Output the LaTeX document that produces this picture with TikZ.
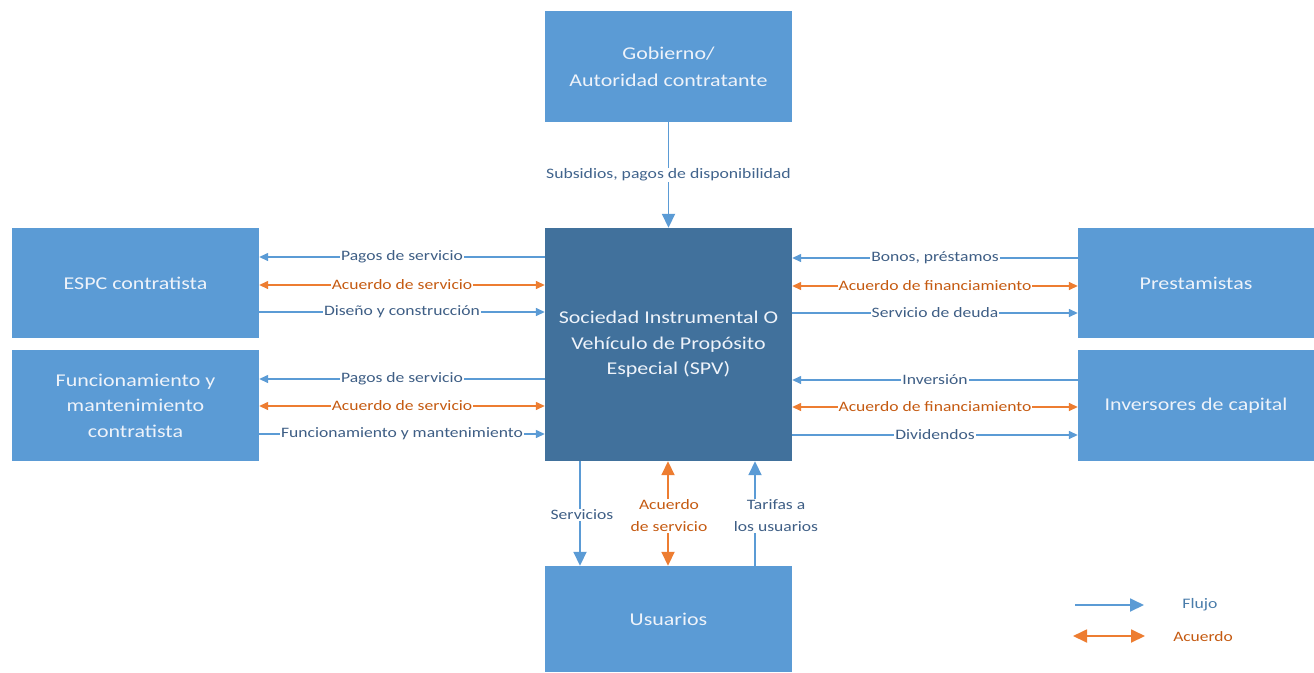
\documentclass[tikz,border=0pt]{standalone}
\usepackage{fontspec}
\setmainfont{Carlito}[FakeStretch=1.22]
\usetikzlibrary{arrows.meta}
\definecolor{boxblue}{HTML}{5B9BD5}
\definecolor{spvblue}{HTML}{41719C}
\definecolor{flowc}{HTML}{5B9BD5}
\definecolor{agrc}{HTML}{ED7D31}
\definecolor{lblc}{HTML}{3E5E85}
\definecolor{lblo}{HTML}{C55A11}
\definecolor{boxtxt}{HTML}{EEF3FA}
\tikzset{
  box/.style={rectangle, fill=boxblue, draw=none, text=boxtxt, font=\fontsize{18}{25.5}\selectfont, align=center, inner sep=0pt},
  flow/.style={draw=flowc, line width=1.4pt, -{Triangle[length=9pt,width=8pt]}},
  agr/.style={draw=agrc, line width=1.4pt, {Triangle[length=9pt,width=8pt]}-{Triangle[length=9pt,width=8pt]}},
  bigflow/.style={draw=flowc, line width=1.8pt, -{Triangle[length=14pt,width=13pt]}},
  bigagr/.style={draw=agrc, line width=1.8pt, {Triangle[length=14pt,width=13pt]}-{Triangle[length=14pt,width=13pt]}},
  lbl/.style={fill=white, text=lblc, inner sep=1pt, font=\fontsize{14.4}{22}\selectfont, align=center},
  lblor/.style={fill=white, text=lblo, inner sep=1pt, font=\fontsize{14.4}{22}\selectfont, align=center},
}
\begin{document}
\begin{tikzpicture}[x=1pt,y=-1pt]
\useasboundingbox (0,0) rectangle (1314,672);
\fill[white] (0,0) rectangle (1314,672);
% boxes
\node[box, minimum width=247pt, minimum height=111pt, font=\fontsize{18}{27}\selectfont] (gob) at (668.5,66.5) {Gobierno/\\Autoridad contratante};
\node[box, fill=spvblue, minimum width=247pt, minimum height=233pt] (spv) at (668.5,344.5) {Sociedad Instrumental O\\Vehículo de Propósito\\Especial (SPV)};
\node[box, minimum width=247pt, minimum height=110pt] (espc) at (135.5,283) {ESPC contratista};
\node[box, minimum width=247pt, minimum height=111pt] (fym) at (135.5,405.5) {Funcionamiento y\\mantenimiento\\contratista};
\node[box, minimum width=236pt, minimum height=110pt] (prest) at (1196,283) {Prestamistas};
\node[box, minimum width=236pt, minimum height=111pt] (inv) at (1196,405.5) {Inversores de capital};
\node[box, minimum width=247pt, minimum height=106pt] (usu) at (668.5,619) {Usuarios};
% top
\draw[bigflow] (gob.south) -- (spv.north) node[pos=0.5, lbl, text=lblc!90!flowc, font=\fontsize{14.5}{16}\selectfont] {Subsidios, pagos de disponibilidad};
% left top
\draw[flow] (spv.west |- 0,257) -- (espc.east |- 0,257) node[midway,lbl] {Pagos de servicio};
\draw[agr] (espc.east |- 0,285) -- (spv.west |- 0,285) node[midway,lblor] {Acuerdo de servicio};
\draw[flow] (espc.east |- 0,312) -- (spv.west |- 0,312) node[midway,lbl] {Diseño y construcción};
% left bottom
\draw[flow] (spv.west |- 0,379) -- (fym.east |- 0,379) node[midway,lbl] {Pagos de servicio};
\draw[agr] (fym.east |- 0,406) -- (spv.west |- 0,406) node[midway,lblor] {Acuerdo de servicio};
\draw[flow] (fym.east |- 0,434) -- (spv.west |- 0,434) node[midway,lbl] {Funcionamiento y mantenimiento};
% right top
\draw[flow] (prest.west |- 0,258) -- (spv.east |- 0,258) node[midway,lbl] {Bonos, préstamos};
\draw[agr] (spv.east |- 0,286) -- (prest.west |- 0,286) node[midway,lblor] {Acuerdo de financiamiento};
\draw[flow] (spv.east |- 0,313) -- (prest.west |- 0,313) node[midway,lbl] {Servicio de deuda};
% right bottom
\draw[flow] (inv.west |- 0,380) -- (spv.east |- 0,380) node[midway,lbl] {Inversión};
\draw[agr] (spv.east |- 0,407) -- (inv.west |- 0,407) node[midway,lblor] {Acuerdo de financiamiento};
\draw[flow] (spv.east |- 0,435) -- (inv.west |- 0,435) node[midway,lbl] {Dividendos};
% bottom
\draw[bigflow] (spv.south -| 580,0) -- (usu.north -| 580,0);
\node[lbl] (lserv) at (582,515) {Servicios};
\draw[bigagr] (usu.north -| 668,0) -- (spv.south -| 668,0);
\node[lblor] (lacu) at (669,516) {Acuerdo\\de servicio};
\draw[bigflow] (usu.north -| 755,0) -- (spv.south -| 755,0);
\node[lbl] (ltar) at (776,516) {Tarifas a\\los usuarios};
% legend
\coordinate (lf1) at (1075,605);
\coordinate (lf2) at (1144,605);
\coordinate (la1) at (1073,636);
\coordinate (la2) at (1145,636);
\draw[bigflow] (lf1) -- (lf2);
\draw[bigagr] (la1) -- (la2);
\node[text=flowc!80!black, font=\fontsize{14.5}{16}\selectfont] (lflujo) at (1200,605) {Flujo};
\node[text=lblo, font=\fontsize{14.3}{16}\selectfont] (lacuerdo) at (1203,637) {Acuerdo};
\end{tikzpicture}
\end{document}
